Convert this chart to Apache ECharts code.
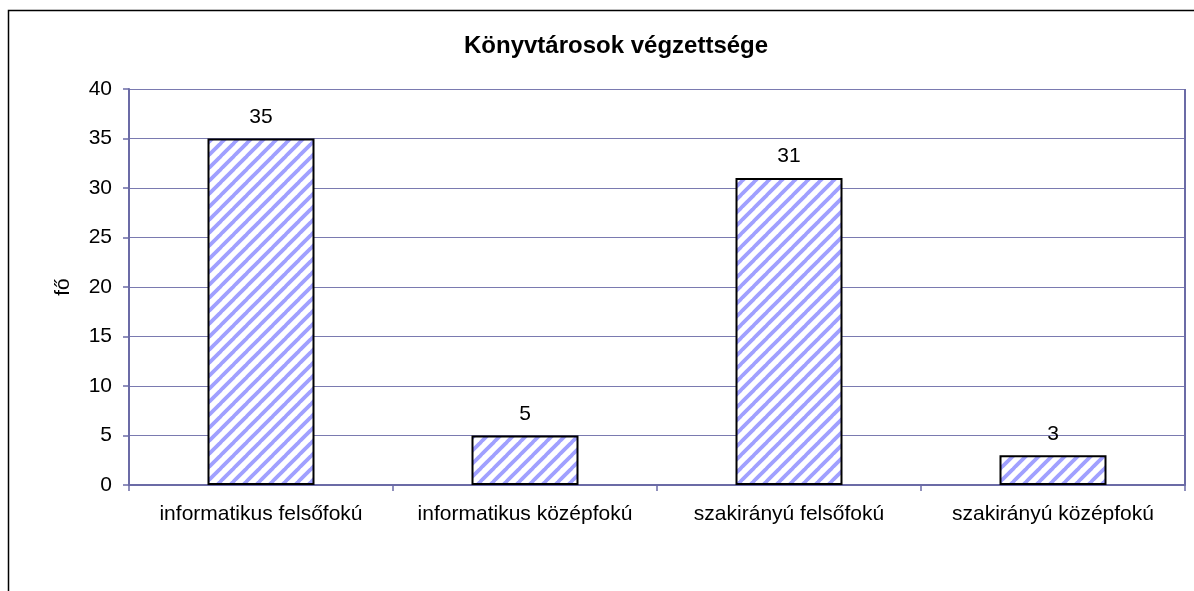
<!DOCTYPE html>
<html>
<head>
<meta charset="utf-8">
<script src="https://cdn.jsdelivr.net/npm/echarts@6/dist/echarts.min.js"></script>
<style>html,body{margin:0;padding:0;background:#fff}#c{width:1194px;height:591px}</style>
</head>
<body>
<div id="c"></div>
<script>
const titleText = 'Könyvtárosok végzettsége';
const yAxisName = 'fő';
const categories = ['informatikus felsőfokú', 'informatikus középfokú', 'szakirányú felsőfokú', 'szakirányú középfokú'];
const values = [35, 5, 31, 3];
const yTicks = [0, 5, 10, 15, 20, 25, 30, 35, 40];

// diagonal stripe pattern
function makePattern() {
  const s = 13;
  const cv = document.createElement('canvas');
  cv.width = s; cv.height = s;
  const ctx = cv.getContext('2d');
  ctx.fillStyle = '#ffffff';
  ctx.fillRect(0, 0, s, s);
  ctx.strokeStyle = '#a0a0ff';
  ctx.lineWidth = 3.8;
  for (let k = -1; k <= 1; k++) {
    ctx.beginPath();
    ctx.moveTo(k * s - 1, s + 1);
    ctx.lineTo(k * s + s + 1, -1);
    ctx.stroke();
  }
  return cv;
}

const axisColor = '#6b6ba6';
const font = 'Liberation Sans, Arial';
const chart = echarts.init(document.getElementById('c'), null, {renderer: 'canvas'});
chart.setOption({
  animation: false,
  backgroundColor: '#ffffff',
  title: {
    text: titleText,
    left: 459,
    top: 29,
    textStyle: {fontFamily: font, fontWeight: 'bold', fontSize: 24, color: '#000'}
  },
  graphic: [{
    type: 'rect',
    shape: {x: 8.5, y: 10.5, width: 1300, height: 700},
    style: {fill: 'none', stroke: '#000', lineWidth: 1.5},
    silent: true, z: 100
  }],
  grid: {left: 129, right: 9, top: 89, bottom: 106, containLabel: false},
  xAxis: {
    type: 'category',
    data: categories,
    axisLine: {lineStyle: {color: axisColor, width: 2}},
    axisTick: {show: true, length: 6, inside: false, lineStyle: {color: axisColor, width: 1.5}},
    axisLabel: {margin: 19, color: '#000', fontFamily: font, fontSize: 21, interval: 0}
  },
  yAxis: {
    type: 'value',
    min: 0, max: 40, interval: 5,
    name: yAxisName,
    nameLocation: 'middle',
    nameGap: 55,
    nameRotate: 90,
    nameTextStyle: {color: '#000', fontFamily: font, fontSize: 21},
    axisLine: {show: true, lineStyle: {color: axisColor, width: 2}},
    axisTick: {show: true, length: 6, lineStyle: {color: axisColor, width: 1.5}},
    axisLabel: {margin: 17, color: '#000', fontFamily: font, fontSize: 21,
      formatter: v => yTicks.includes(v) ? String(v) : ''},
    splitLine: {show: true, lineStyle: {color: '#7a7ab0', width: 1}}
  },
  series: [{
    type: 'bar',
    data: values,
    barWidth: 107,
    itemStyle: {
      color: {image: makePattern(), repeat: 'repeat'},
      borderColor: '#000',
      borderWidth: 2
    },
    label: {
      show: true, position: 'top', distance: 11,
      color: '#000', fontFamily: font, fontSize: 21
    }
  }, {
    type: 'line', data: [], markLine: {silent: true, symbol: 'none', label: {show: false},
      lineStyle: {color: axisColor, width: 2, type: 'solid'},
      data: [[{x: 1185, y: 89}, {x: 1185, y: 485}]]}
  }]
});
</script>
</body>
</html>
